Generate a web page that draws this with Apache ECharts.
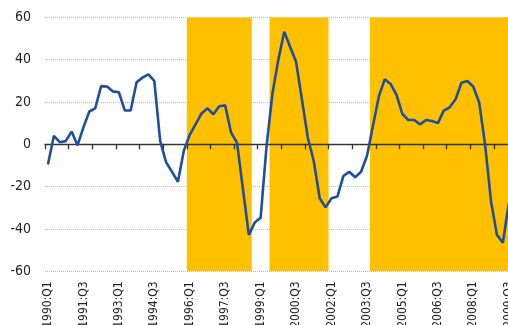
<!DOCTYPE html>
<html><head><meta charset="utf-8">
<script src="https://cdn.jsdelivr.net/npm/echarts@6/dist/echarts.min.js"></script>
<style>html,body{margin:0;padding:0;background:#fff}#c{width:508px;height:325px}</style>
</head><body><div id="c"></div>
<script>
// Quarters 1990:Q1 .. 2009:Q3
const quarters = [];
for (let y = 1990; y <= 2009; y++) for (let q = 1; q <= 4; q++) {
  if (y === 2009 && q > 3) break;
  quarters.push(y + ':Q' + q);
}
const values = [
  -9.5, 4, 1, 1.5, 6, -0.5, 8, 15.5, 17, 27.5,
  27.3, 25, 24.6, 16, 16, 29.3, 31.5, 33, 30, 1.5,
  -8.5, -13, -17.7, -3, 4.5, 9.5, 14.6, 17, 14.2, 18,
  18.4, 5.5, 0.8, -21, -42.8, -37, -34.7, -1, 24, 40,
  53.2, 46, 39, 21, 3, -8, -25.5, -29.8, -25.5, -24.7,
  -15, -13, -15.6, -13, -5.5, 8.5, 22.5, 30.7, 28.5, 23.3,
  14.3, 11.5, 11.5, 9.4, 11.5, 11, 10, 15.9, 17.5, 21.3,
  29.1, 29.9, 27.2, 19.7, -0.3, -27, -42.8, -46.5, -28
];
// shaded periods (first and last quarter, inclusive)
const shadedPeriods = [["1996:Q1", "1998:Q3"], ["1999:Q3", "2001:Q4"], ["2003:Q4", "2009:Q3"]];
const yTicks = { min: -60, max: 60, interval: 20 };

// shaded spans expressed as quarter-boundary positions on a hidden value axis
const shadeSpans = shadedPeriods.map(p => [quarters.indexOf(p[0]), quarters.indexOf(p[1]) + 1]);

const FONT = "'Liberation Sans Narrow','Arial Narrow','DejaVu Sans Condensed','Roboto Condensed','Liberation Sans',sans-serif";
const chart = echarts.init(document.getElementById('c'), null, { renderer: 'canvas' });
chart.setOption({
  animation: false,
  backgroundColor: '#ffffff',
  grid: { left: 45, width: 466.7, top: 17.3, height: 254, containLabel: false, outerBoundsMode: 'none' },
  xAxis: [
    {
      type: 'category', data: quarters, boundaryGap: true, position: 'bottom',
      axisLine: { show: false, onZero: false }, axisTick: { show: false },
      axisLabel: { interval: 5, rotate: 90, margin: 10, color: '#222', fontSize: 12, fontFamily: FONT },
      splitLine: { show: false }
    },
    {
      type: 'category', data: quarters, boundaryGap: true, position: 'bottom', z: 5,
      axisLine: { show: true, onZero: true, lineStyle: { color: '#333', width: 1.3 } },
      axisTick: { show: true, interval: 3, length: 5, inside: false, lineStyle: { color: '#333', width: 1.3 } },
      axisLabel: { show: false }, splitLine: { show: false }
    },
    { type: 'value', min: 0, max: quarters.length, show: false, splitLine: { show: false } }
  ],
  yAxis: [
    {
      type: 'value', min: yTicks.min, max: yTicks.max, interval: yTicks.interval,
      axisLine: { show: false }, axisTick: { show: false },
      axisLabel: { color: '#222', fontSize: 14, margin: 14, fontFamily: FONT },
      splitLine: { show: true, lineStyle: { color: '#bbb', type: 'dotted', width: 1 } }
    }
  ],
  series: [
    {
      type: 'custom', xAxisIndex: 2, yAxisIndex: 0, data: shadeSpans, z: 1, silent: true, clip: true,
      renderItem: function (params, api) {
        const p0 = api.coord([api.value(0), yTicks.max]);
        const p1 = api.coord([api.value(1), yTicks.min]);
        return { type: 'rect', shape: { x: p0[0], y: p0[1], width: p1[0] - p0[0], height: p1[1] - p0[1] },
                 style: { fill: '#FFC000' } };
      }
    },
    {
      type: 'line', xAxisIndex: 0, yAxisIndex: 0, data: values, showSymbol: false,
      lineStyle: { color: '#1F4E9F', width: 2.6 }, z: 6
    }
  ]
});
</script></body></html>
